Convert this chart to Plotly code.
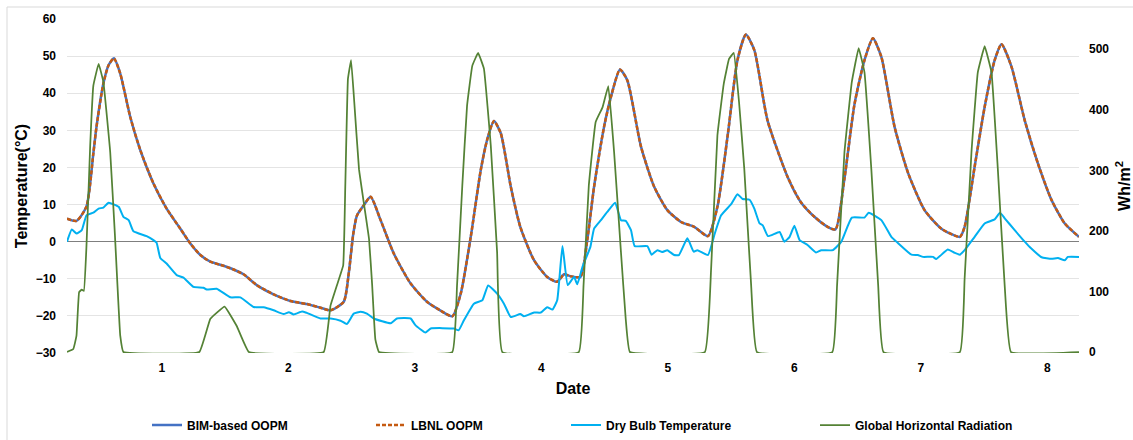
import plotly.graph_objects as go

# ---------------- data ----------------
day_tick_hours = [18, 42, 66, 90, 114, 138, 162, 186]
day_tick_labels = ["1", "2", "3", "4", "5", "6", "7", "8"]

oopm_hours = [0, 1.8, 3.7, 5, 5.6, 6.9, 7.9, 8.9, 10.1, 12, 13.9, 16.4, 18.9, 21.5, 23.4,
              25.3, 27.2, 29.7, 31.6, 33.5, 36, 39.2, 42.4, 45.5, 48.1, 50, 52.5, 53.5,
              54.3, 55, 56.3, 57.6, 59.5, 62, 65.2, 68.3, 70.8, 73.1, 74.7, 76.6, 78.5,
              79.7, 81, 82.3, 84.2, 86, 88.6, 91.1, 93, 94.3, 95.5, 97.4, 98.7, 100,
              101.9, 103.2, 104.9, 106.3, 108.9, 111.4, 113.9, 116.5, 119, 121.6, 123.4,
              125.4, 127.2, 128.8, 130.4, 132.9, 136.7, 139.2, 141.8, 144.3, 145.8, 147.5,
              149.4, 151.3, 152.9, 154.5, 157, 159.6, 162.7, 165.9, 169.4, 170.3, 172.2,
              174.1, 176, 177.3, 179.2, 181.7, 184.2, 186.8, 189.3, 192]
bim_oopm = [6.2, 5.6, 9.5, 23.8, 31, 42.6, 47.6, 49.4, 45.3, 33.6, 24.7, 15.7, 8.9, 3.5, -0.5,
            -3.6, -5.4, -6.5, -7.5, -8.8, -11.7, -14.2, -16, -16.8, -17.8, -18.5, -16.2, -8,
            2, 7, 9.8, 12.1, 5.8, -3.2, -11.3, -16.2, -18.5, -20.1, -14, 1.3, 19.3,
            27.4, 32.5, 29.2, 14.8, 4, -5, -9.5, -10.8, -8.8, -9.3, -9.5, 0.4, 14.8,
            31, 39, 46.4, 43.5, 25.6, 14.8, 8.5, 5.3, 4, 1.5, 9.4,
            29.2, 48.9, 55.8, 51.6, 32.7, 17.5, 10.7, 6.7, 4, 3.3, 17,
            37, 48.9, 54.8, 49.8, 31, 18.4, 8.5, 3.5, 1.3, 4, 20.2,
            36.3, 48.9, 53.2, 47.1, 32.7, 21.1, 11.2, 4.9, 1.3]
lbnl_oopm = [6.2, 5.6, 9.5, 23.8, 31, 42.6, 47.6, 49.4, 45.3, 33.6, 24.7, 15.7, 8.9, 3.5, -0.5,
             -3.6, -5.4, -6.5, -7.5, -8.8, -11.7, -14.2, -16, -16.8, -17.8, -18.5, -16.2, -8,
             2, 7, 9.8, 12.1, 5.8, -3.2, -11.3, -16.2, -18.5, -20.1, -14, 1.3, 19.3,
             27.4, 32.5, 29.2, 14.8, 4, -5, -9.5, -10.8, -8.8, -9.3, -9.5, 0.4, 14.8,
             31, 39, 46.4, 43.5, 25.6, 14.8, 8.5, 5.3, 4, 1.5, 9.4,
             29.2, 48.9, 55.8, 51.6, 32.7, 17.5, 10.7, 6.7, 4, 3.3, 17,
             37, 48.9, 54.8, 49.8, 31, 18.4, 8.5, 3.5, 1.3, 4, 20.2,
             36.3, 48.9, 53.2, 47.1, 32.7, 21.1, 11.2, 4.9, 1.3]

dbt_hours = [0, 0.9, 1.8, 2.8, 3.7, 5, 6, 6.9, 7.9, 9.8, 10.7, 11.7, 12.6, 15.1, 16.4, 17,
             17.7, 18.9, 20.8, 22.1, 24, 25.9, 26.5, 28.4, 31, 32.9, 35.4, 37.3, 39.2, 41.1,
             42.1, 43, 44.6, 45.5, 48.1, 50, 51.9, 53.1, 54.4, 55.7, 56.9, 58.2, 61.4,
             62.6, 65.2, 66.1, 68, 69, 73.4, 74.3, 75.3, 77.2, 78.8, 79.9, 81.6, 82.9,
             84.2, 86, 86.7, 88.6, 89.9, 91.1, 92.1, 93, 94, 95, 96.2, 96.8, 97.8,
             99.3, 100, 101.3, 102.5, 104, 105.1, 106, 107, 107.7, 110.1, 110.9, 112,
             112.9, 113.9, 115.2, 116.1, 117.7, 118.9, 119.6, 121.6, 122.9, 124.1, 126,
             127.2, 128.2, 129.5, 130.4, 131.4, 132, 133, 135.2, 136.1, 137.1, 138,
             139, 140.5, 142.1, 143.1, 145.3, 146.9, 148.9, 151.3, 152.1, 154.5, 156.4,
             157.6, 160.2, 161.4, 162.4, 164.3, 164.9, 167.1, 168.4, 169.4, 170.3,
             172.2, 174.1, 176, 177, 177.9, 179.8, 181.7, 182.9, 184.9, 186.8, 188,
             189.3, 189.9, 192]
dry_bulb = [0, 3.3, 2.2, 3.1, 7.1, 7.8, 8.9, 9.2, 10.5, 9.4, 6.7, 5.8, 2.8, 1.5, 0.4, -0.3,
            -4.4, -5.9, -9, -9.7, -12.2, -12.4, -12.9, -12.7, -15, -15, -17.6, -17.7, -18.5, -19.5,
            -19, -19.6, -18.8, -19.2, -20.7, -20.7, -21.3, -22.2, -19.4, -18.9, -19.4, -20.7, -22,
            -20.7, -20.7, -22.5, -24.5, -23.4, -23.4, -23.9, -21.2, -16.7, -15.8, -11.8, -14, -16.7,
            -20.3, -19.5, -20.1, -19.1, -19.1, -17.7, -18.3, -15.8, -1.2, -11.7, -9.5, -11.5, -6.8,
            -1.4, 3.5, 5.8, 8, 10.5, 5.8, 5.6, 3.1, -1.2, -1.2, -3.5, -2.3,
            -2.8, -2.3, -3.6, -3.6, 0.9, -2.7, -2.3, -3.6, 2.2, 7.1, 10.1,
            12.8, 11.5, 11.3, 8.9, 4.9, 4.4, 1.5, 2.6, 0, 1.3, 4.3,
            0.4, -0.9, -2.9, -2.3, -2.3, 0, 6.5, 6.5, 7.8, 5.8, 1.3,
            -0.3, -3.5, -3.6, -4.1, -4.1, -4.7, -2.1, -3, -3.5, -2.3,
            1.3, 4.9, 6, 7.8, 6.3, 3.1, 0, -1.8, -4.2, -4.6, -4.4,
            -5, -4.1, -4.1]

ghr_hours = [0, 1.2, 1.8, 2.3, 2.8, 3.2, 3.7, 4.4, 5, 6, 6.9, 8.2, 9.1, 10.1, 10.7,
             25.1, 27.2, 29.9, 32.2, 34.5,
             48.7, 50, 51.2, 52.4, 52.8, 53.3, 53.9, 54.5, 55.4, 56.3, 57.3, 57.9, 58.5, 59.2,
             73.1, 74, 75, 75.9, 76.9, 78, 79.1, 80.4, 81.6, 82.6,
             97.1, 98, 99, 100.3, 101.6, 102.7, 103.8, 105.1, 106, 106.8,
             121, 122.2, 123.4, 124.6, 125.6, 126.5, 127.5, 128.5, 129.8, 130.9,
             145.2, 146.1, 147.5, 148.9, 150.2, 151.3, 152.6, 153.9, 154.9,
             169.4, 170.3, 171.6, 172.8, 174.1, 175.4, 176.6, 177.9, 179.1, 192]
global_radiation = [0, 5, 27, 99, 103, 101, 176, 341, 440, 476, 446, 330, 192, 27, 0,
                    0, 55, 75, 43, 0,
                    0, 77, 110, 143, 275, 451, 482, 413, 302, 247, 187, 110, 21, 0,
                    0, 110, 275, 407, 473, 494, 468, 341, 165, 0,
                    0, 110, 275, 380, 404, 439, 330, 165, 55, 0,
                    0, 137, 358, 443, 484, 494, 413, 302, 110, 0,
                    0, 110, 330, 446, 502, 462, 302, 110, 0,
                    0, 121, 330, 462, 505, 462, 302, 110, 0, 0]

# ---------------- figure ----------------
FONT = "Liberation Sans, Arial, sans-serif"
fig = go.Figure()

fig.add_trace(go.Scatter(x=oopm_hours, y=bim_oopm, name="BIM-based OOPM", mode="lines",
                         line=dict(color="#4472C4", width=2.5, shape="spline", smoothing=0.6),
                         legend="legend", showlegend=True))
fig.add_trace(go.Scatter(x=oopm_hours, y=lbnl_oopm, name="LBNL OOPM", mode="lines",
                         line=dict(color="#C55A11", width=2.5, dash="4px,2px",
                                   shape="spline", smoothing=0.6),
                         legend="legend2", showlegend=True))
fig.add_trace(go.Scatter(x=dbt_hours, y=dry_bulb, name="Dry Bulb Temperature", mode="lines",
                         line=dict(color="#00B0F0", width=2, shape="spline", smoothing=0.4),
                         legend="legend3", showlegend=True))
fig.add_trace(go.Scatter(x=ghr_hours, y=global_radiation, name="Global Horizontal Radiation",
                         mode="lines", yaxis="y2",
                         line=dict(color="#548235", width=1.75, shape="spline", smoothing=0.25),
                         legend="legend4", showlegend=True))

L, R, T, B = 67, 54, 19, 87
W, H = 1133, 440
pw, ph = W - L - R, H - T - B

def px_x(p):
    return (p - L) / pw

def px_y(p):
    return (H - B - p) / ph

legend_common = dict(orientation="h", yanchor="middle", xanchor="left", visible=True,
                     bgcolor="rgba(0,0,0,0)", borderwidth=0,
                     font=dict(family=FONT, size=12, color="#000000", weight="bold"))

fig.update_layout(
    width=W, height=H,
    showlegend=True,
    margin=dict(l=L, r=R, t=T, b=B, autoexpand=False),
    paper_bgcolor="white", plot_bgcolor="white",
    font=dict(family=FONT, color="#000000"),
    xaxis=dict(range=[0, 192], tickmode="array", tickvals=day_tick_hours,
               ticktext=day_tick_labels, showgrid=False, zeroline=False, showline=False,
               ticks="", tickfont=dict(size=12, weight="bold", color="#000000"),
               ticklabelstandoff=6,
               title=dict(text="Date", font=dict(size=16, weight="bold"), standoff=8)),
    yaxis=dict(range=[-30, 60], dtick=10, tick0=0, showgrid=True, gridcolor="#E4E4E4",
               gridwidth=1, zeroline=True, zerolinecolor="#7F7F7F", zerolinewidth=1,
               showline=False, ticks="", ticklabelstandoff=10,
               tickfont=dict(size=12, weight="bold", color="#000000"),
               title=dict(text="Temperature(°C)", font=dict(size=16, weight="bold"), standoff=4)),
    yaxis2=dict(range=[-1.6, 550], overlaying="y", side="right", tickmode="array",
                tickvals=[0, 100, 200, 300, 400, 500], showgrid=False, zeroline=False,
                showline=False, ticks="", ticklabelstandoff=9,
                tickfont=dict(size=12, weight="bold", color="#000000"),
                title=dict(text="Wh/m<sup>2</sup>", font=dict(size=16, weight="bold"), standoff=10)),
    legend=dict(x=px_x(147), y=px_y(425), **legend_common),
    legend2=dict(x=px_x(371), y=px_y(425), **legend_common),
    legend3=dict(x=px_x(566), y=px_y(425), **legend_common),
    legend4=dict(x=px_x(815), y=px_y(425), **legend_common),
    shapes=[dict(type="rect", xref="paper", yref="paper",
                 x0=px_x(7), x1=px_x(1145), y0=px_y(460), y1=px_y(7),
                 line=dict(color="#D9D9D9", width=1), fillcolor="rgba(0,0,0,0)",
                 layer="below")],
)

fig.write_html("out.html")
